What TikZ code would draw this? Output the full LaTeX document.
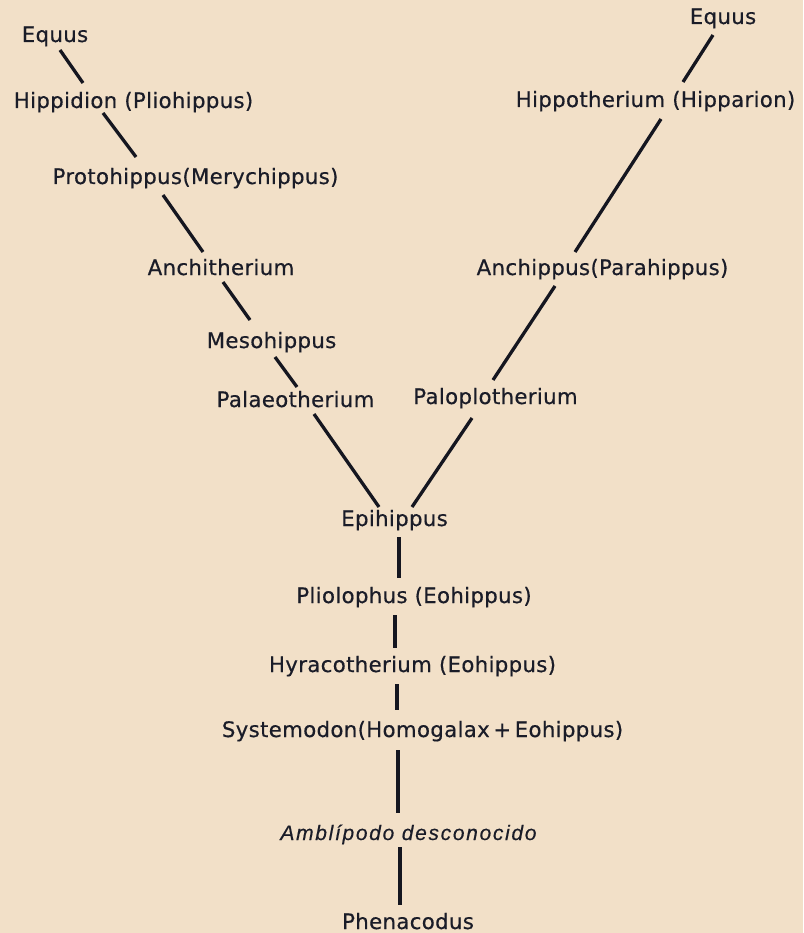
\documentclass[tikz,border=0pt]{standalone}
\usepackage{fontspec}
\setmainfont{DejaVu Sans}[LetterSpace=1.5, FakeBold=0.5]
\newfontfamily\handfont{Liberation Sans}[LetterSpace=8, FakeBold=0.4]
\usetikzlibrary{calc}
\definecolor{paper}{RGB}{242,224,200}
\definecolor{ink}{RGB}{26,28,40}
\begin{document}
\begin{tikzpicture}[x=1pt,y=-1pt,
  lbl/.style={anchor=base, inner sep=0pt, text=ink, font=\fontsize{21.3}{24}\selectfont},
  hand/.style={lbl, font=\fontsize{21}{24}\selectfont\handfont\itshape},
  link/.style={draw=ink!80!black, line width=3.3pt}]
\fill[paper] (0,0) rectangle (803,933);
\useasboundingbox (0,0) rectangle (803,933);
% left branch
\node[lbl] (eql) at (55,42) {Equus};
\node[lbl] (hip) at (133.5,108) {Hippidion (Pliohippus)};
\node[lbl] (pro) at (195.5,184) {Protohippus(Merychippus)};
\node[lbl] (anc) at (221,275) {Anchitherium};
\node[lbl] (mes) at (271.5,348) {Mesohippus};
\node[lbl] (pal) at (295.5,407) {Palaeotherium};
% right branch
\node[lbl] (eqr) at (723,24) {Equus};
\node[lbl] (hpt) at (655.5,107) {Hippotherium (Hipparion)};
\node[lbl] (anp) at (602.5,275) {Anchippus(Parahippus)};
\node[lbl] (plo) at (495.5,404) {Paloplotherium};
% trunk
\node[lbl] (epi) at (394.5,526) {Epihippus};
\node[lbl] (pli) at (414,603) {Pliolophus (Eohippus)};
\node[lbl] (hyr) at (412.5,672) {Hyracotherium (Eohippus)};
\node[lbl] (sys) at (422.5,737) {Systemodon(Homogalax\,+\,Eohippus)};
\node[hand] (amb) at (408.5,840) {Amblípodo desconocido};
\node[lbl] (phe) at (408,929) {Phenacodus};
% connectors
\draw[link] ($(eql.base)+(5,8)$) -- ($(hip.base)+(-50.5,-25)$);
\draw[link] ($(hip.base)+(-30.5,5)$) -- ($(pro.base)+(-59.5,-27)$);
\draw[link] ($(pro.base)+(-32.5,11)$) -- ($(anc.base)+(-18,-23)$);
\draw[link] ($(anc.base)+(2,7)$) -- ($(mes.base)+(-21.5,-28)$);
\draw[link] ($(mes.base)+(3.5,9)$) -- ($(pal.base)+(1.5,-20)$);
\draw[link] ($(pal.base)+(18.5,7)$) -- ($(epi.base)+(-15.5,-19)$);
\draw[link] ($(plo.base)+(-23.5,14)$) -- ($(epi.base)+(17.5,-19)$);
\draw[link] ($(anp.base)+(-47.5,11)$) -- ($(plo.base)+(-2.5,-24)$);
\draw[link] ($(hpt.base)+(5.5,12)$) -- ($(anp.base)+(-27.5,-23)$);
\draw[link] ($(eqr.base)+(-10,11)$) -- ($(hpt.base)+(27.5,-25)$);
\draw[link] ($(epi.base)+(4.5,11)$) -- ($(pli.base)+(-15,-25)$);
\draw[link] ($(pli.base)+(-19,12)$) -- ($(hyr.base)+(-17.5,-24)$);
\draw[link] ($(hyr.base)+(-15.5,12)$) -- ($(sys.base)+(-25.5,-27)$);
\draw[link] ($(sys.base)+(-24.5,13)$) -- ($(amb.base)+(-10.5,-27)$);
\draw[link] ($(amb.base)+(-8.5,7)$) -- ($(phe.base)+(-8,-24)$);
\end{tikzpicture}
\end{document}
